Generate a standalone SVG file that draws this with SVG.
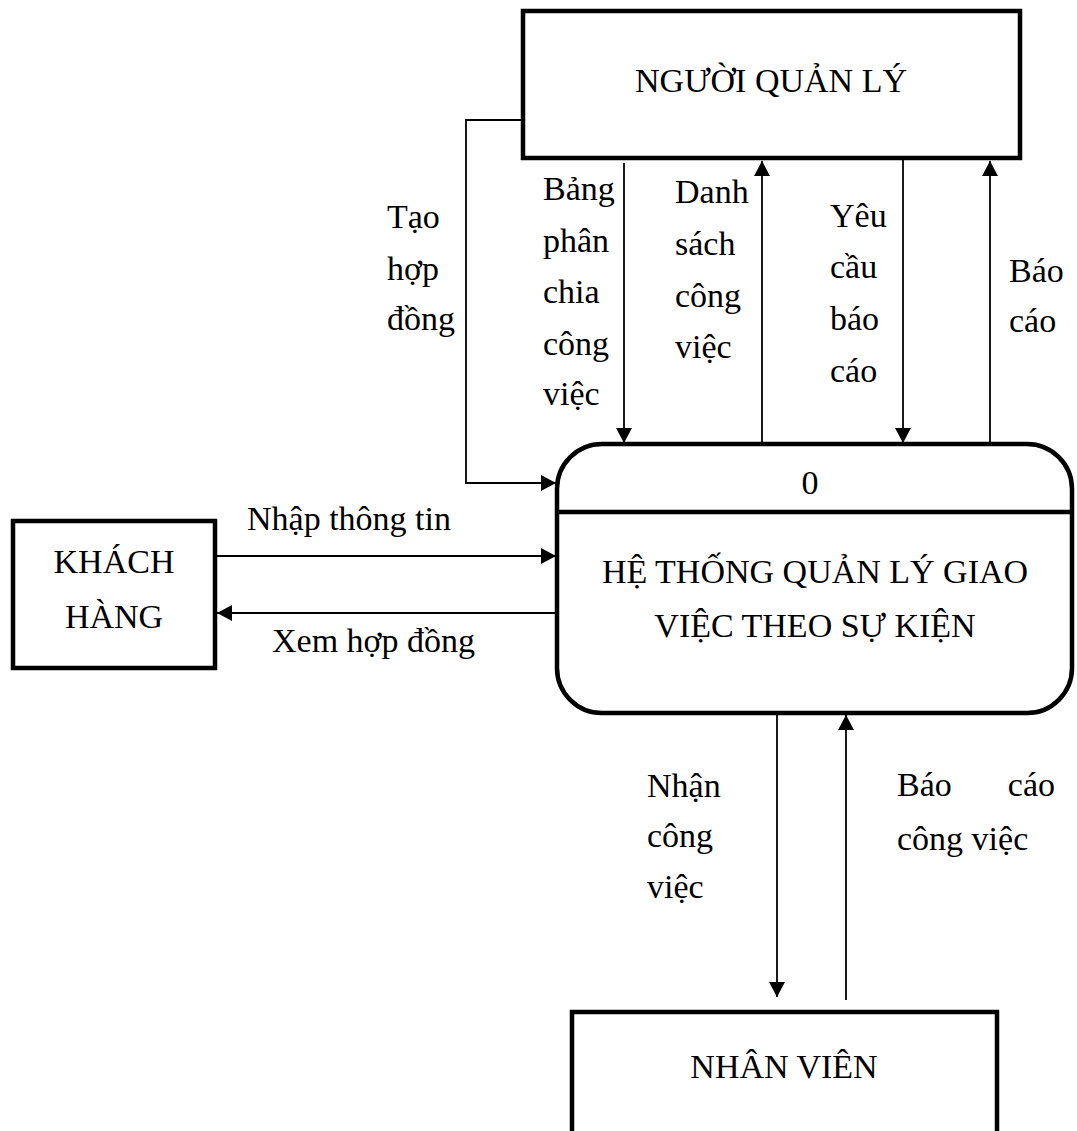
<svg xmlns="http://www.w3.org/2000/svg" width="1077" height="1131" viewBox="0 0 1077 1131">
  <style>
    .box { fill: #fff; stroke: #000; stroke-width: 4.5; }
    .flow { fill: none; stroke: #000; stroke-width: 1.8; }
    text { font-family: "Liberation Serif", "Times New Roman", serif; font-size: 34px; fill: #000; }
    .c { text-anchor: middle; }
  </style>
  <defs>
    <marker id="arrow" viewBox="0 0 15 16" refX="15" refY="8" markerWidth="15" markerHeight="16" markerUnits="userSpaceOnUse" orient="auto">
      <path d="M0,0 L15,8 L0,16 Z" fill="#000"/>
    </marker>
  </defs>
  <rect width="1077" height="1131" fill="#fff"/>

  <!-- external entities -->
  <g id="nguoi-quan-ly">
    <rect class="box" x="523" y="11" width="497" height="147"/>
    <text class="c" x="771" y="92">NGƯỜI QUẢN LÝ</text>
  </g>

  <g id="khach-hang">
    <rect class="box" x="13" y="521" width="202" height="147"/>
    <text class="c" x="114" y="573">KHÁCH</text>
    <text class="c" x="114" y="628">HÀNG</text>
  </g>

  <g id="nhan-vien">
    <rect class="box" x="572" y="1012" width="425" height="140"/>
    <text class="c" x="784" y="1078">NHÂN VIÊN</text>
  </g>

  <!-- process 0 -->
  <g id="he-thong">
    <rect class="box" x="557" y="444" width="515" height="269" rx="45" ry="45"/>
    <line x1="557" y1="512" x2="1072" y2="512" stroke="#000" stroke-width="4.5"/>
    <text class="c" x="810" y="494">0</text>
    <text class="c" x="815" y="583">HỆ THỐNG QUẢN LÝ GIAO</text>
    <text class="c" x="815" y="637">VIỆC THEO SỰ KIỆN</text>
  </g>

  <!-- data flows -->
  <g id="connectors">
    <polyline class="flow" points="523,120 466,120 466,483 556,483" marker-end="url(#arrow)"/>
    <line class="flow" x1="624" y1="163" x2="624" y2="443" marker-end="url(#arrow)"/>
    <line class="flow" x1="762" y1="442" x2="762" y2="161" marker-end="url(#arrow)"/>
    <line class="flow" x1="903" y1="160" x2="903" y2="443" marker-end="url(#arrow)"/>
    <line class="flow" x1="990" y1="442" x2="990" y2="161" marker-end="url(#arrow)"/>
    <line class="flow" x1="217" y1="556" x2="556" y2="556" marker-end="url(#arrow)"/>
    <line class="flow" x1="555" y1="613" x2="217" y2="613" marker-end="url(#arrow)"/>
    <line class="flow" x1="777" y1="715" x2="777" y2="997" marker-end="url(#arrow)" stroke-width="2.4"/>
    <line class="flow" x1="846" y1="1000" x2="846" y2="715" marker-end="url(#arrow)"/>
  </g>

  <!-- flow labels -->
  <g id="labels">
    <text x="387" y="228">Tạo</text>
    <text x="387" y="280">hợp</text>
    <text x="387" y="330">đồng</text>

    <text x="543" y="200">Bảng</text>
    <text x="543" y="252">phân</text>
    <text x="543" y="303">chia</text>
    <text x="543" y="355">công</text>
    <text x="543" y="405">việc</text>

    <text x="675" y="203">Danh</text>
    <text x="675" y="255">sách</text>
    <text x="675" y="307">công</text>
    <text x="675" y="358">việc</text>

    <text x="830" y="227">Yêu</text>
    <text x="830" y="278">cầu</text>
    <text x="830" y="330">báo</text>
    <text x="830" y="382">cáo</text>

    <text x="1009" y="282">Báo</text>
    <text x="1009" y="332">cáo</text>

    <text x="247" y="530">Nhập thông tin</text>
    <text x="272" y="652">Xem hợp đồng</text>

    <text x="647" y="797">Nhận</text>
    <text x="647" y="847">công</text>
    <text x="647" y="898">việc</text>

    <text x="897" y="796">Báo</text>
    <text x="1055" y="796" text-anchor="end">cáo</text>
    <text x="897" y="850">công việc</text>
  </g>
</svg>
